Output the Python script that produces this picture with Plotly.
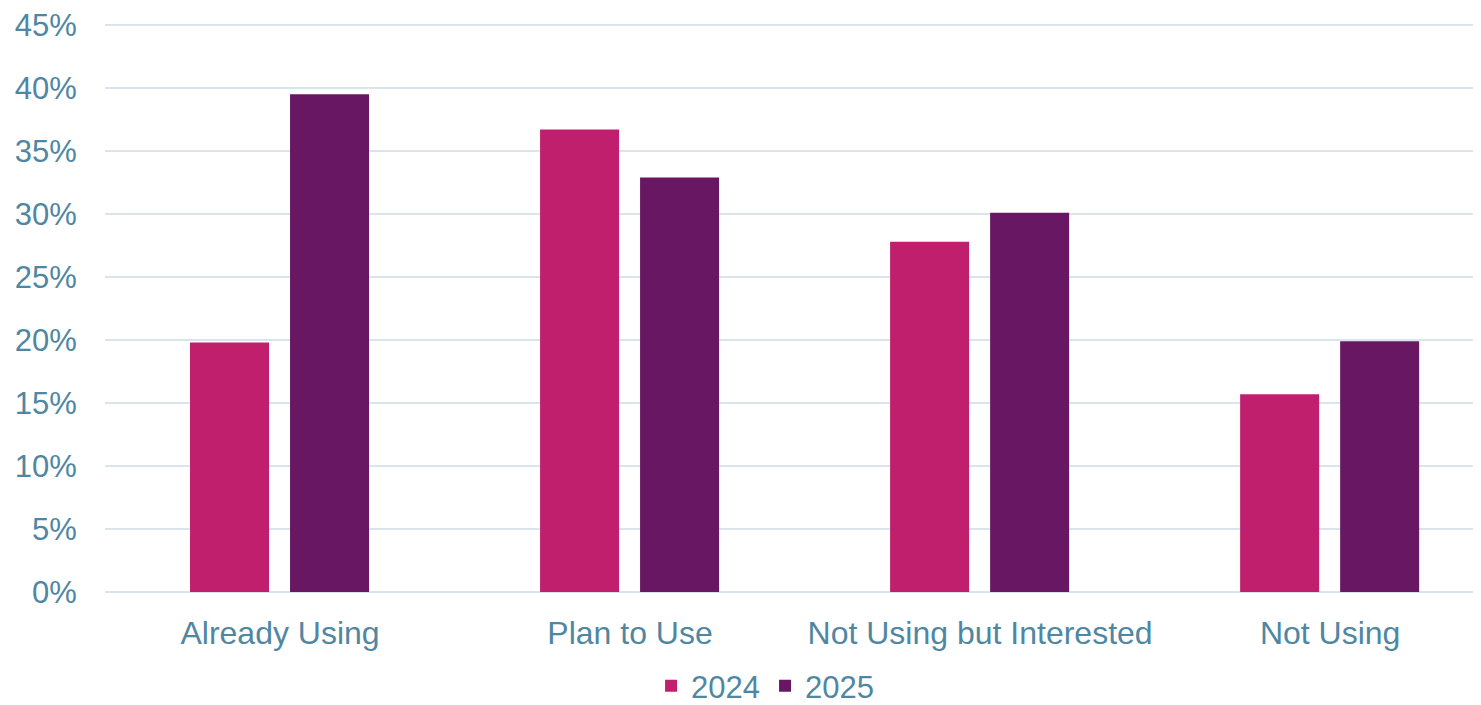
import plotly.graph_objects as go

categories = ["Already Using", "Plan to Use", "Not Using but Interested", "Not Using"]
values_2024 = [19.8, 36.7, 27.8, 15.7]
values_2025 = [39.5, 32.9, 30.1, 19.9]
y_ticks = [0, 5, 10, 15, 20, 25, 30, 35, 40, 45]
y_tick_labels = [f"{v}%" for v in y_ticks]

text_color = "#4F87A3"
grid_color = "#D9E4EC"
font_family = "Liberation Sans, Arial, sans-serif"

fig = go.Figure()
fig.add_trace(go.Bar(
    name="2024", x=categories, y=values_2024,
    marker=dict(color="#C01F6E", line=dict(width=0)),
    width=0.2257, offset=-0.2571,
))
fig.add_trace(go.Bar(
    name="2025", x=categories, y=values_2025,
    marker=dict(color="#681863", line=dict(width=0)),
    width=0.2257, offset=0.0286,
))

fig.update_layout(
    width=1473, height=697,
    margin=dict(l=97, r=0, t=12, b=113),
    paper_bgcolor="white", plot_bgcolor="white",
    barmode="overlay",
    font=dict(family=font_family, color=text_color, size=32),
    showlegend=True,
    legend=dict(
        orientation="h", x=0.4797, xanchor="center",
        yref="container", y=0.027, yanchor="middle",
        font=dict(size=31, color=text_color), itemwidth=30, traceorder="normal",
    ),
    xaxis=dict(
        range=[-0.5, 3.431], showgrid=False, zeroline=False, showline=False,
        ticks="outside", ticklen=13, tickcolor="rgba(0,0,0,0)",
        tickfont=dict(size=32, color=text_color),
    ),
    yaxis=dict(
        range=[0, 45.16], tickvals=y_ticks, ticktext=y_tick_labels,
        showgrid=True, gridcolor=grid_color, gridwidth=2,
        zeroline=True, zerolinecolor=grid_color, zerolinewidth=2,
        showline=False, ticks="outside", ticklen=21, tickcolor="rgba(0,0,0,0)",
        tickfont=dict(size=31, color=text_color), ticklabeloverflow="allow",
    ),
)

fig.write_html("out.html")
